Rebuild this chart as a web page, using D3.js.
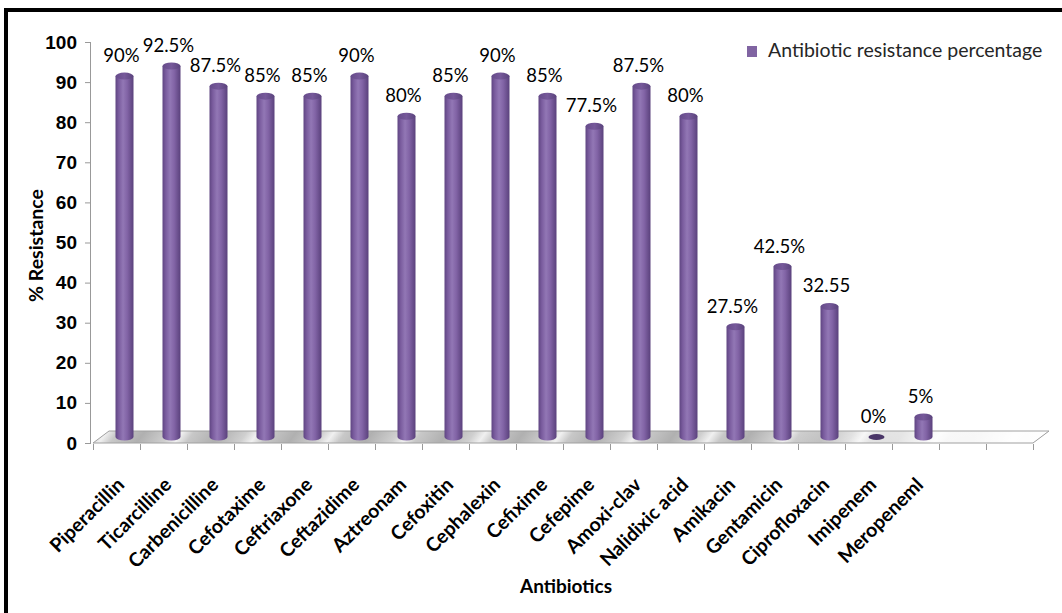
<!DOCTYPE html>
<html>
<head>
<meta charset="utf-8">
<script src="https://cdn.jsdelivr.net/npm/d3@7"></script>
<style>
  html, body { margin: 0; padding: 0; background: #fff; }
  svg { display: block; }
</style>
</head>
<body>
<svg id="chart" width="1062" height="613"></svg>
<script>
// Antibiotic resistance data
const categories = ["Piperacillin", "Ticarcilline", "Carbenicilline", "Cefotaxime", "Ceftriaxone",
  "Ceftazidime", "Aztreonam", "Cefoxitin", "Cephalexin", "Cefixime", "Cefepime", "Amoxi-clav",
  "Nalidixic acid", "Amikacin", "Gentamicin", "Ciprofloxacin", "Imipenem", "Meropeneml"];
const resistance = [90, 92.5, 87.5, 85, 85, 90, 80, 85, 90, 85, 77.5, 87.5, 80, 27.5, 42.5, 32.55, 0, 5];
const valueLabels = ["90%", "92.5%", "87.5%", "85%", "85%", "90%", "80%", "85%", "90%", "85%",
  "77.5%", "87.5%", "80%", "27.5%", "42.5%", "32.55", "0%", "5%"];
const yTicks = [0, 10, 20, 30, 40, 50, 60, 70, 80, 90, 100];
const seriesName = "Antibiotic resistance percentage";
const slotCount = 20; // category slots on the floor, two left empty at the right

const svg = d3.select("#chart");
const W = 1062, H = 613;
const LABEL_FONT = "Lato, 'Open Sans', sans-serif";

// Plot geometry
const left = 93, right = 1033, y0 = 443, y100 = 42;
const depthX = 16, depthY = -12;      // floor depth
const halfX = depthX / 2, halfY = depthY / 2; // bars stand in the middle of the floor
const barW = 18, ry = 3.5;

const x = d3.scaleBand().domain(d3.range(slotCount)).range([left, right]).padding(0);
const xEdge = d3.scaleLinear().domain([0, slotCount]).range([left, right]);
const y = d3.scaleLinear().domain([0, 100]).range([y0, y100]);

const defs = svg.append("defs");

// Cylinder body shading
const bodyGrad = defs.append("linearGradient").attr("id", "bodyGrad")
  .attr("x1", "0").attr("x2", "1").attr("y1", "0").attr("y2", "0");
[["0%", "#5f4582"], ["18%", "#7a5c9e"], ["42%", "#9277b5"], ["65%", "#8264a6"], ["100%", "#5a417c"]]
  .forEach(([o, c]) => bodyGrad.append("stop").attr("offset", o).attr("stop-color", c));

const topGrad = defs.append("linearGradient").attr("id", "topGrad")
  .attr("x1", "0").attr("x2", "1").attr("y1", "0").attr("y2", "0");
[["0%", "#664b8a"], ["50%", "#76599a"], ["100%", "#5a437c"]]
  .forEach(([o, c]) => topGrad.append("stop").attr("offset", o).attr("stop-color", c));

// Floor with metallic diagonal streaks
const floorGrad = defs.append("linearGradient").attr("id", "floorGrad")
  .attr("gradientUnits", "userSpaceOnUse")
  .attr("x1", 0).attr("y1", 0).attr("x2", 50).attr("y2", 36)
  .attr("spreadMethod", "repeat");
[["0%", "#b0b0b0"], ["35%", "#cfcfcf"], ["50%", "#f0f0f0"], ["65%", "#c8c8c8"], ["100%", "#b0b0b0"]]
  .forEach(([o, c]) => floorGrad.append("stop").attr("offset", o).attr("stop-color", c));
const floorFade = defs.append("linearGradient").attr("id", "floorFade")
  .attr("gradientUnits", "userSpaceOnUse")
  .attr("x1", left).attr("x2", right + depthX).attr("y1", 0).attr("y2", 0);
[["0%", "#fff", 0], ["72%", "#fff", 0], ["88%", "#fff", 0.85], ["100%", "#fff", 1]]
  .forEach(([o, c, a]) => floorFade.append("stop").attr("offset", o).attr("stop-color", c).attr("stop-opacity", a));

// Outer frame (top and left edges visible)
svg.append("path")
  .attr("d", `M6,${H + 10} L6,10 L${W + 10},10`)
  .attr("fill", "none").attr("stroke", "#000").attr("stroke-width", 4);

// Floor
const floorPts = [[left, y0], [right, y0], [right + depthX, y0 + depthY], [left + depthX, y0 + depthY]];
const floorPath = "M" + floorPts.map(p => p.join(",")).join("L") + "Z";
svg.append("path").attr("d", floorPath).attr("fill", "url(#floorGrad)");
svg.append("path").attr("d", floorPath).attr("fill", "url(#floorFade)");
svg.append("path").attr("d", floorPath).attr("fill", "none").attr("stroke", "#a0a0a0").attr("stroke-width", 1);

// Y axis
const yAxis = d3.axisLeft(y).tickValues(yTicks).tickSize(6).tickPadding(8);
const gy = svg.append("g").attr("transform", `translate(${left - 2},0)`).call(yAxis);
gy.select(".domain").attr("stroke", "#999").attr("d", `M-0.5,${y100}V${y0}`);
gy.selectAll(".tick line").attr("stroke", "#999");
gy.selectAll(".tick text")
  .attr("font-family", "'Liberation Sans', Arial, sans-serif")
  .attr("font-weight", "bold").attr("font-size", 19).attr("fill", "#000");

// X axis tick marks at slot boundaries
const xAxis = d3.axisBottom(xEdge).tickValues(d3.range(slotCount + 1)).tickSize(6).tickFormat("");
const gx = svg.append("g").attr("transform", `translate(0,${y0 + 1})`).call(xAxis);
gx.select(".domain").remove();
gx.selectAll(".tick line").attr("stroke", "#999");

// Bars as cylinders
const bars = svg.append("g");
resistance.forEach((v, i) => {
  const cx = x(i) + x.bandwidth() / 2 + halfX;
  const base = y(0) + halfY;
  const top = y(v) + halfY;
  const rx = barW / 2;
  if (v > 0) {
    bars.append("path")
      .attr("d", `M${cx - rx},${top} L${cx - rx},${base} A${rx},${ry} 0 0 0 ${cx + rx},${base} L${cx + rx},${top} Z`)
      .attr("fill", "url(#bodyGrad)");
    bars.append("ellipse").attr("cx", cx).attr("cy", top).attr("rx", rx).attr("ry", ry)
      .attr("fill", "url(#topGrad)");
  } else {
    bars.append("ellipse").attr("cx", cx).attr("cy", base).attr("rx", rx - 1).attr("ry", ry - 0.5)
      .attr("fill", "#4a3668");
  }
});

// Value labels
svg.append("g").selectAll("text").data(resistance).join("text")
  .attr("x", (d, i) => x(i) + x.bandwidth() / 2 + 5)
  .attr("y", d => y(d) + halfY - 14)
  .attr("text-anchor", "middle")
  .attr("font-family", LABEL_FONT).attr("font-size", 18.5).attr("fill", "#000")
  .text((d, i) => valueLabels[i]);

// Category labels, rotated
svg.append("g").selectAll("text").data(categories).join("text")
  .attr("transform", (d, i) => `translate(${x(i) + x.bandwidth() / 2 + 9},${y0 + 43}) rotate(-45)`)
  .attr("text-anchor", "end")
  .attr("font-family", LABEL_FONT).attr("font-weight", "bold").attr("font-size", 19.5).attr("fill", "#000")
  .text(d => d);

// Axis titles
svg.append("text")
  .attr("transform", `translate(43,245.5) rotate(-90)`)
  .attr("text-anchor", "middle")
  .attr("font-family", LABEL_FONT).attr("font-weight", "bold").attr("font-size", 19.5).attr("fill", "#000")
  .text("% Resistance");
svg.append("text")
  .attr("x", 566).attr("y", 593)
  .attr("text-anchor", "middle")
  .attr("font-family", LABEL_FONT).attr("font-weight", "bold").attr("font-size", 19).attr("fill", "#000")
  .text("Antibiotics");

// Legend
const legend = svg.append("g").attr("transform", "translate(747,46)");
legend.append("rect").attr("width", 10).attr("height", 11).attr("fill", "#8064a2");
legend.append("text").attr("x", 21).attr("y", 11)
  .attr("font-family", LABEL_FONT).attr("font-size", 19.5).attr("fill", "#262626")
  .text(seriesName);
</script>
</body>
</html>
